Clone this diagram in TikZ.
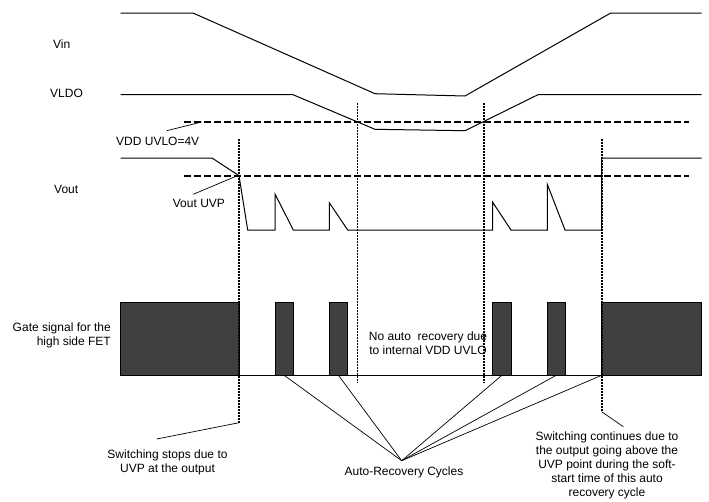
\documentclass[tikz,border=0pt]{standalone}
\usepackage{fontspec}
\setmainfont{Liberation Sans}
\definecolor{gatefill}{HTML}{404040}
\begin{document}
\begin{tikzpicture}[x=1pt, y=-1pt,
    wave/.style={line width=1pt},
    level/.style={line width=1.6pt, dash pattern=on 7pt off 3pt},
    marker/.style={line width=1.7pt, dash pattern=on 1.5pt off 1.5pt},
    pulse/.style={draw, line width=1pt, fill=gatefill, inner sep=0pt, outer sep=0pt, anchor=south west, minimum height=73pt},
    leader/.style={line width=0.7pt},
    lbl/.style={font=\fontsize{12}{14}\selectfont, inner sep=0pt}]
\useasboundingbox (0,0) rectangle (709,501);

% signal names
\node[lbl, anchor=base west] (vin) at (53,48.7) {Vin};
\node[lbl, anchor=base west] (vldo) at (50,97.5) {VLDO};
\node[lbl, anchor=base west] (vout) at (54,193.3) {Vout};
\node[lbl, anchor=north east, align=right] (gate) at (111,322.3) {Gate signal for the\\high side FET};

% waveforms
\draw[wave] (120.7,13) -- (193,13) -- (375,93.7) -- (465,96) -- (610.7,13) -- (701.7,13);
\draw[wave] (120.7,94.7) -- (293,94.7) -- (375,129.3) -- (465,130.7) -- (538,94.7) -- (701.7,94.7);
\draw[wave] (120.7,158) -- (212,158) -- (239,175.7) -- (247.7,230) -- (275,230) -- (275,194)
    -- (293.3,230) -- (329.3,230) -- (329.3,202.7) -- (347.7,230) -- (492.7,230) -- (492.7,202.3)
    -- (511,230) -- (547.3,230) -- (547.3,184.3) -- (565,230) -- (601.7,230) -- (601.7,158) -- (701.7,158);

% thresholds
\draw[level] (184,122) coordinate (uvlo) -- (689,122);
\draw[level] (184,175.7) coordinate (uvp) -- (689,175.7);
\node[lbl, anchor=base west] (uvlotxt) at (116,145.3) {VDD UVLO=4V};
\node[lbl, anchor=base west] (uvptxt) at (172.7,207.3) {Vout UVP};
\coordinate (uvloleader) at (166.7,130.7);
\coordinate (uvlomark) at (201.7,122);
\coordinate (uvpleader) at (193.3,194.3);
\coordinate (uvpmark) at (235,176.7);
\draw[leader] (uvloleader) -- (uvlomark);
\draw[leader] (uvpleader) -- (uvpmark);

% gate signal
\draw[wave] (120.7,375.3) -- (701.7,375.3);
\node[pulse, minimum width=118.3pt] (p0) at (120.7,375.3) {};
\node[pulse, minimum width=18.3pt] (p1) at (275,375.3) {};
\node[pulse, minimum width=18.3pt] (p2) at (329.3,375.3) {};
\node[pulse, minimum width=18.3pt] (p3) at (492.7,375.3) {};
\node[pulse, minimum width=17.7pt] (p4) at (547.3,375.3) {};
\node[pulse, minimum width=100pt] (p5) at (601.7,375.3) {};

% markers
\draw[marker] (239,139.3) coordinate (stoptop) -- (239,422.7) coordinate (stopend);
\draw[marker] (357.5,103.3) coordinate (offtop) -- (357.5,382.7) coordinate (offend);
\draw[marker] (483.7,103.3) coordinate (ontop) -- (483.7,382.7) coordinate (onend);
\draw[marker] (601.7,139.3) coordinate (runtop) -- (601.7,411.7) coordinate (runend);

\node[lbl, anchor=north, align=center] (novdd) at (428,332) {No auto\ \ recovery due\\to internal VDD UVLO};

% notes
\node[lbl, anchor=north, align=center] (stoptxt) at (167.5,450) {Switching stops due to\\UVP at the output};
\coordinate (stopleader) at (156.7,439);
\draw[leader] (stopleader) -- (stopend);

\node[lbl, anchor=north, align=center] (runtxt) at (607,432) {Switching continues due to\\the output going above the\\UVP point during the soft-\\start time of this auto\\recovery cycle};
\coordinate (runleader) at (623.3,426.7);
\draw[leader] (runleader) -- (runend);

\coordinate (fan) at (401.7,460.7);
\node[lbl, anchor=base] (cycles) at (404,475.3) {Auto-Recovery Cycles};
\draw[leader] (fan) -- (p1.south);
\draw[leader] (fan) -- (p2.south);
\draw[leader] (fan) -- (p3.south);
\draw[leader] (fan) -- (p4.south);
\draw[leader] (fan) -- (p5.south west);
\end{tikzpicture}
\end{document}
